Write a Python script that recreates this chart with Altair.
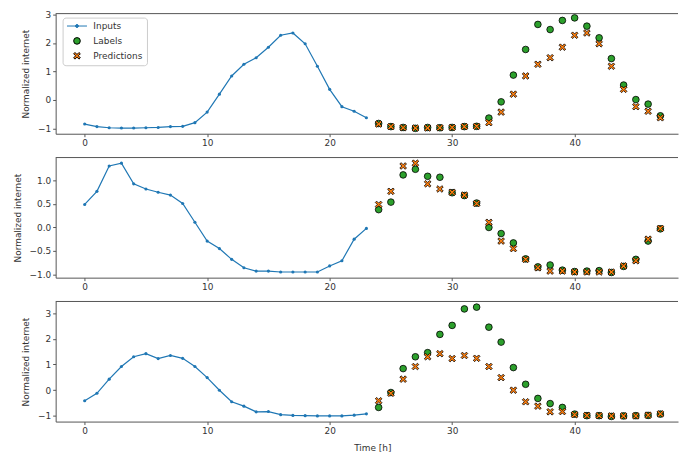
import altair as alt
import pandas as pd

# ---------------- data ----------------
hours_in = list(range(0, 24))
hours_out = list(range(24, 48))
x_ticks = [0, 10, 20, 30, 40]

inputs_1 = [-0.85, -0.94, -0.98, -0.99, -0.99, -0.98, -0.97, -0.94, -0.93, -0.80, -0.43, 0.20,
            0.84, 1.25, 1.48, 1.85, 2.27, 2.35, 1.97, 1.18, 0.37, -0.24, -0.40, -0.63]
labels_1 = [-0.83, -0.94, -0.97, -1.00, -0.97, -0.98, -0.97, -0.94, -0.93, -0.64, -0.07, 0.87,
            1.77, 2.65, 2.47, 2.79, 2.88, 2.59, 2.18, 1.45, 0.52, 0.01, -0.15, -0.56]
preds_1 = [-0.85, -0.94, -0.98, -0.99, -0.99, -0.98, -0.97, -0.94, -0.93, -0.80, -0.43, 0.20,
           0.84, 1.25, 1.48, 1.85, 2.27, 2.35, 1.97, 1.18, 0.37, -0.24, -0.40, -0.63]

inputs_2 = [0.49, 0.77, 1.31, 1.37, 0.93, 0.82, 0.75, 0.69, 0.51, 0.11, -0.29, -0.45,
            -0.68, -0.86, -0.93, -0.93, -0.95, -0.95, -0.95, -0.95, -0.82, -0.71, -0.25, -0.02]
labels_2 = [0.38, 0.54, 1.12, 1.24, 1.09, 1.07, 0.74, 0.68, 0.52, 0.00, -0.13, -0.33,
            -0.67, -0.84, -0.80, -0.91, -0.94, -0.93, -0.92, -0.96, -0.83, -0.68, -0.29, -0.03]
preds_2 = [0.49, 0.77, 1.31, 1.37, 0.93, 0.82, 0.75, 0.69, 0.51, 0.11, -0.29, -0.45,
           -0.68, -0.86, -0.93, -0.93, -0.95, -0.95, -0.95, -0.95, -0.82, -0.71, -0.25, -0.02]

inputs_3 = [-0.41, -0.12, 0.43, 0.92, 1.30, 1.42, 1.23, 1.35, 1.24, 0.92, 0.49, 0.00,
            -0.45, -0.62, -0.84, -0.83, -0.95, -0.98, -0.99, -1.00, -1.00, -1.00, -0.97, -0.92]
labels_3 = [-0.67, -0.09, 0.84, 1.30, 1.46, 2.17, 2.52, 3.16, 3.23, 2.45, 1.87, 0.88,
            0.23, -0.32, -0.52, -0.67, -0.93, -0.99, -0.99, -1.02, -1.00, -0.99, -0.98, -0.93]
preds_3 = [-0.41, -0.12, 0.43, 0.92, 1.30, 1.42, 1.23, 1.35, 1.24, 0.92, 0.49, 0.00,
           -0.45, -0.62, -0.84, -0.83, -0.95, -0.98, -0.99, -1.00, -1.00, -1.00, -0.97, -0.92]

series_names = ["Inputs", "Labels", "Predictions"]
y_domains = [[-1.19, 3.03], [-1.07, 1.49], [-1.22, 3.45]]
y_ticks = [[-1, 0, 1, 2, 3], [-1.0, -0.5, 0.0, 0.5, 1.0], [-1, 0, 1, 2, 3]]
y_formats = ["d", ".1f", "d"]

# ---------------- style ----------------
FONT = "DejaVu Sans"
TXT = "#333333"
SPINE = "#555555"
BLUE = "#1f77b4"
GREEN = "#2ca02c"
ORANGE = "#ff7f0e"
W = 627
H = 121
XDOM = [-2.37, 48.44]

INPUT_SYMBOL = ("M-3,0L3,0M0.45,0A0.45,0.45,0,1,1,-0.45,0"
                "A0.45,0.45,0,1,1,0.45,0Z")
X_SYMBOL = ("M-1,-0.6L-0.6,-1L0,-0.4L0.6,-1L1,-0.6L0.4,0L1,0.6L0.6,1"
            "L0,0.4L-0.6,1L-1,0.6L-0.4,0Z")

shape_scale = alt.Scale(domain=series_names, range=[INPUT_SYMBOL, "circle", X_SYMBOL])
fill_scale = alt.Scale(domain=series_names, range=[BLUE, GREEN, ORANGE])
stroke_scale = alt.Scale(domain=series_names, range=[BLUE, "black", "black"])


def make_legend():
    return alt.Legend(title=None, orient="none", legendX=7, legendY=4,
                      fillColor="white", strokeColor="#cccccc", cornerRadius=3,
                      padding=4, labelFont=FONT, labelFontSize=9, labelColor=TXT,
                      symbolSize=45, symbolStrokeWidth=1, rowPadding=4,
                      symbolOffset=6, labelOffset=12)


def panel(i, inputs, labels, preds, show_legend, show_xtitle):
    df_in = pd.DataFrame({"x": hours_in, "y": inputs})
    df_pts = pd.DataFrame({
        "x": hours_out + hours_out,
        "y": labels + preds,
        "series": ["Labels"] * len(labels) + ["Predictions"] * len(preds),
    })
    x_axis = alt.Axis(values=x_ticks, title="Time [h]" if show_xtitle else None,
                      titlePadding=8, titleX=319, grid=False, labelOverlap=False,
                      tickCount=10)
    xenc = alt.X("x:Q", scale=alt.Scale(domain=XDOM, nice=False, zero=False), axis=x_axis)
    yenc = alt.Y("y:Q", scale=alt.Scale(domain=y_domains[i], nice=False, zero=False),
                 axis=alt.Axis(values=y_ticks[i], format=y_formats[i], grid=False,
                               labelOverlap=False, tickCount=10,
                               title="Normalized internet", titlePadding=7))
    line = alt.Chart(df_in).mark_line(
        color=BLUE, strokeWidth=1.2,
        point=alt.OverlayMarkDef(filled=True, color=BLUE, size=10),
    ).encode(x=xenc, y=yenc)

    leg = make_legend() if show_legend else None
    pts = alt.Chart(df_pts).mark_point(filled=True, size=45, strokeWidth=0.8, opacity=1).encode(
        x="x:Q", y="y:Q",
        shape=alt.Shape("series:N", scale=shape_scale, legend=leg),
        fill=alt.Fill("series:N", scale=fill_scale, legend=leg),
        stroke=alt.Stroke("series:N", scale=stroke_scale, legend=leg),
    )
    top = alt.Chart(pd.DataFrame({"k": [0]})).mark_rule(color=SPINE, strokeWidth=1).encode(
        x=alt.value(0), x2=alt.value(W), y=alt.value(0))
    return alt.layer(line, pts, top).properties(width=W, height=H)


p1 = panel(0, inputs_1, labels_1, preds_1, True, False)
p2 = panel(1, inputs_2, labels_2, preds_2, False, False)
p3 = panel(2, inputs_3, labels_3, preds_3, False, True)

chart = alt.vconcat(p1, p2, p3, spacing=24, bounds="flush").resolve_scale(
    shape="independent", fill="independent", stroke="independent"
).resolve_legend(
    shape="independent", fill="independent", stroke="independent"
).properties(
    padding={"left": 5, "top": 0, "right": 0, "bottom": 0},
    background="white",
).configure_view(stroke=None).configure_axis(
    labelFont=FONT, titleFont=FONT, labelFontSize=9, titleFontSize=9,
    labelColor=TXT, titleColor=TXT, titleFontWeight="normal",
    tickColor=SPINE, domainColor=SPINE, tickSize=3, labelPadding=2,
    grid=False, domainWidth=1, tickWidth=1,
)

chart.save("out.html", embed_options={"renderer": "svg", "actions": False})
